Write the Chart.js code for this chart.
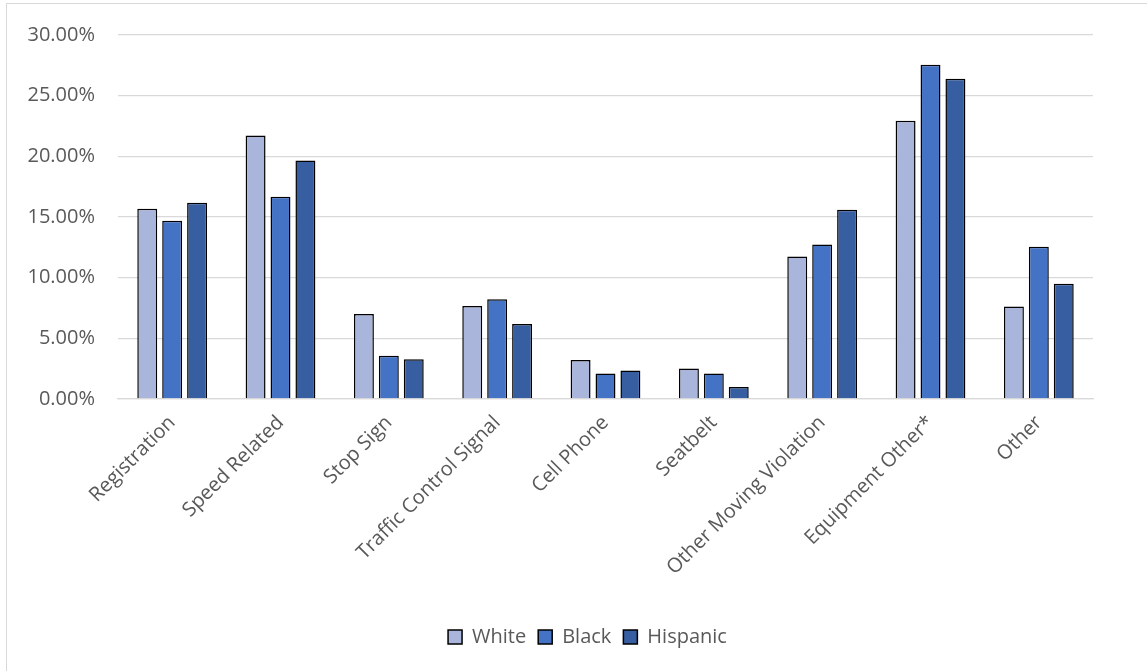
<!DOCTYPE html>
<html>
<head>
<meta charset="utf-8">
<script src="https://cdn.jsdelivr.net/npm/chart.js@4"></script>
<style>
  html, body { margin: 0; padding: 0; background: #fff; }
  #frame { position: absolute; left: 6px; top: 3px; width: 1160px; height: 690px; border: 1px solid #D9D9D9; }
  #wrap { position: absolute; left: 0; top: 0; width: 1147px; height: 671px; }
</style>
</head>
<body>
<div id="frame"></div>
<div id="wrap"><canvas id="violationChart"></canvas></div>
<script>
const categories = ['Registration', 'Speed Related', 'Stop Sign', 'Traffic Control Signal', 'Cell Phone',
    'Seatbelt', 'Other Moving Violation', 'Equipment Other*', 'Other'];
const whiteValues = [15.68, 21.71, 7.00, 7.66, 3.22, 2.51, 11.75, 22.94, 7.63];
const blackValues = [14.70, 16.66, 3.57, 8.23, 2.10, 2.10, 12.73, 27.55, 12.55];
const hispanicValues = [16.17, 19.66, 3.27, 6.19, 2.34, 0.98, 15.60, 26.40, 9.49];

const textColor = '#595959';
const fontFamily = "'Open Sans', sans-serif";

const ctx = document.getElementById('violationChart').getContext('2d');
let violationChart = new Chart(ctx, {
    type: 'bar',
    data: {
        labels: categories,
        datasets: [
            { label: 'White', data: whiteValues, backgroundColor: '#A9B5DA', borderColor: '#000', borderWidth: 1.5 },
            { label: 'Black', data: blackValues, backgroundColor: '#4472C4', borderColor: '#000', borderWidth: 1.5 },
            { label: 'Hispanic', data: hispanicValues, backgroundColor: '#365EA1', borderColor: '#000', borderWidth: 1.5 }
        ]
    },
    options: {
        responsive: true,
        maintainAspectRatio: false,
        animation: false,
        categoryPercentage: 0.69,
        barPercentage: 0.8,
        layout: { padding: { top: 32, right: 0, bottom: 14, left: 28 } },
        plugins: {
            tooltip: { enabled: false },
            legend: {
                position: 'bottom',
                labels: {
                    color: textColor,
                    font: { family: fontFamily, size: 20 },
                    boxWidth: 14,
                    boxHeight: 14,
                    padding: 12
                }
            }
        },
        scales: {
            x: {
                grid: { display: false },
                border: { color: '#D9D9D9', width: 1.3 },
                ticks: {
                    color: textColor,
                    font: { family: fontFamily, size: 20 },
                    minRotation: 45,
                    maxRotation: 45,
                    padding: 4
                },
                afterFit: (scale) => { scale.height = 216; }
            },
            y: {
                min: 0,
                max: 30,
                grid: { color: '#D9D9D9', lineWidth: 1.3, drawTicks: false },
                border: { display: false },
                ticks: {
                    stepSize: 5,
                    color: textColor,
                    font: { family: fontFamily, size: 20 },
                    padding: 23,
                    callback: (v) => v.toFixed(2) + '%'
                },
                afterFit: (scale) => { scale.width = 90; }
            },
            // empty right-hand axis that only reserves the gap right of the plot
            yRight: {
                position: 'right',
                grid: { display: false },
                border: { display: false },
                ticks: { display: false },
                afterFit: (scale) => { scale.width = 54; }
            }
        }
    }
});
</script>
</body>
</html>
